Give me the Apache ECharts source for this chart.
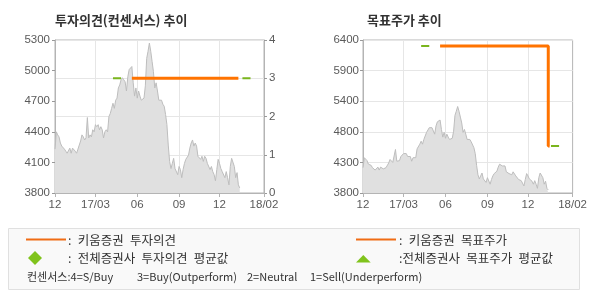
<!DOCTYPE html>
<html><head><meta charset="utf-8">
<script src="https://cdn.jsdelivr.net/npm/echarts@6/dist/echarts.min.js"></script>
<style>html,body{margin:0;padding:0;background:#fff}#c{width:590px;height:300px}</style>
</head><body><div id="c"></div>
<script>
// ---- data ----
const startDate = '2016-12-01';
const stepDays = 3;
const categoryCount = 156;
const tickLabels = ['12', '17/03', '06', '09', '12', '18/02'];
const tickDates = ['2016-12-01', '2017-03-01', '2017-06-01', '2017-09-01', '2017-12-01', '2018-03-11'];
const price = [
  4230, 4400, 4370, 4350, 4290, 4260, 4270, 4230, 4210, 4190,
  4180, 4240, 4190, 4240, 4230, 4210, 4190, 4230, 4240, 4310,
  4370, 4350, 4320, 4340, 4540, 4340, 4370, 4350, 4420, 4400,
  4470, 4450, 4470, 4420, 4450, 4420, 4340, 4400, 4420, 4400,
  4550, 4580, 4630, 4680, 4630, 4710, 4730, 4830, 4860, 4910,
  4930, 4910, 4890, 4800, 4940, 5010, 5020, 5040, 4880, 4750,
  4830, 4730, 4800, 4750, 4710, 4700, 4730, 4850, 5120, 5190,
  5270, 5190, 5090, 4990, 4830, 4880, 4800, 4710, 4700, 4710,
  4670, 4650, 4570, 4470, 4270, 4110, 4040, 4090, 4140, 4040,
  4030, 3980, 4060, 4030, 3950, 4030, 4090, 4130, 4140, 4170,
  4240, 4290, 4320, 4260, 4290, 4260, 4160, 4170, 4130, 4160,
  4110, 4160, 4140, 4090, 4080, 4030, 4060, 4010, 3980, 3920,
  4030, 4130, 4090, 4040, 4010, 4000, 3950, 4010, 3950, 3880,
  4060, 4140, 4130, 4060, 3950, 4000, 3880, 3850
];
// [from, to, value]
const kiwoomOpinion = [['2017-05-21', '2018-01-13', 3]];
const consensusOpinion = [['2017-04-09', '2017-04-27', 3], ['2018-01-22', '2018-02-09', 3]];
const kiwoomTarget = [['2017-05-21', '2018-01-13', 6300], ['2018-01-16', '2018-01-16', 4600]];
const consensusTarget = [['2017-04-09', '2017-04-27', 6300], ['2018-01-22', '2018-02-09', 4600]];

// ---- build ----
const t0 = Date.parse(startDate + 'T00:00:00Z');
const categories = [];
for (let i = 0; i < categoryCount; i++) {
  categories.push(new Date(t0 + i * stepDays * 86400000).toISOString().slice(0, 10));
}
const tickMap = new Map();
tickDates.forEach((d, k) => {
  let idx = categories.findIndex(c => c >= d);
  if (idx < 0) idx = categories.length - 1;
  tickMap.set(idx, tickLabels[k]);
});
const lastIdx = categories.length - 1;
function fromSegments(segs) {
  return categories.map(c => {
    for (const s of segs) if (c >= s[0] && c <= s[1]) return s[2];
    return null;
  });
}

const ORANGE = '#ff7300';
const GREEN = '#7ab51d';
const BORDER = '#b4b4b4';
const GRIDC = '#e6e6e6';
const LABEL = '#5a5a5a';
const numFont = 'Liberation Sans';
const KR = 'Noto Sans CJK KR';

function mkX(gi) {
  return {
    gridIndex: gi, type: 'category', data: categories, boundaryGap: false,
    axisLine: { show: true, lineStyle: { color: BORDER } },
    axisTick: { show: true, length: 4, interval: (i) => tickMap.has(i), lineStyle: { color: BORDER } },
    axisLabel: { interval: (i) => tickMap.has(i), formatter: (v, i) => tickMap.get(i) || '', color: LABEL, fontSize: 11.5, fontFamily: numFont, margin: 6 },
    splitLine: { show: true, interval: (i) => tickMap.has(i) && i !== 0 && i !== lastIdx, lineStyle: { color: GRIDC } }
  };
}
const plain = v => String(Math.round(v));

const chart = echarts.init(document.getElementById('c'), null, { renderer: 'canvas' });
chart.setOption({
  animation: false,
  title: [
    { text: '투자의견(컨센서스) 추이', left: 55, top: 14, padding: 0, textStyle: { fontSize: 13, fontWeight: 'bold', color: '#333', fontFamily: KR } },
    { text: '목표주가 추이', left: 367, top: 14, padding: 0, textStyle: { fontSize: 13, fontWeight: 'bold', color: '#333', fontFamily: KR } }
  ],
  grid: [
    { left: 55, top: 40, width: 209, height: 153, show: true, borderColor: BORDER, borderWidth: 1 },
    { left: 363, top: 40, width: 210, height: 153, show: true, borderColor: BORDER, borderWidth: 1 }
  ],
  xAxis: [mkX(0), mkX(1)],
  yAxis: [
    { gridIndex: 0, type: 'value', min: 3800, max: 5300, interval: 300, position: 'left',
      splitLine: { show: false }, axisLine: { show: true, lineStyle: { color: BORDER } },
      axisTick: { show: true, length: 3, lineStyle: { color: '#999' } },
      axisLabel: { margin: 5, color: LABEL, fontSize: 11.5, fontFamily: numFont, formatter: plain } },
    { gridIndex: 0, type: 'value', min: 0, max: 4, interval: 1, position: 'right',
      splitLine: { show: true, lineStyle: { color: GRIDC } }, axisLine: { show: true, lineStyle: { color: BORDER } },
      axisTick: { show: true, length: 3, lineStyle: { color: '#999' } },
      axisLabel: { margin: 5, color: LABEL, fontSize: 11.5, fontFamily: numFont, formatter: plain } },
    { gridIndex: 1, type: 'value', min: 3800, max: 6400, interval: 520, position: 'left',
      splitLine: { show: true, lineStyle: { color: GRIDC } }, axisLine: { show: true, lineStyle: { color: BORDER } },
      axisTick: { show: true, length: 3, lineStyle: { color: '#999' } },
      axisLabel: { margin: 4, color: LABEL, fontSize: 11.5, fontFamily: numFont, formatter: v => String(Math.round(v / 100) * 100) } }
  ],
  series: [
    { type: 'line', xAxisIndex: 0, yAxisIndex: 0, data: price, symbol: 'none', z: 1,
      lineStyle: { color: '#bdbdbd', width: 1 }, areaStyle: { color: '#e0e0e0', opacity: 1 } },
    { type: 'line', xAxisIndex: 0, yAxisIndex: 1, data: fromSegments(consensusOpinion), symbol: 'none', z: 3,
      lineStyle: { color: GREEN, width: 2, cap: 'butt' } },
    { type: 'line', xAxisIndex: 0, yAxisIndex: 1, data: fromSegments(kiwoomOpinion), symbol: 'none', z: 4,
      lineStyle: { color: ORANGE, width: 3, cap: 'butt' } },
    { type: 'line', xAxisIndex: 1, yAxisIndex: 2, data: price, symbol: 'none', z: 1,
      lineStyle: { color: '#bdbdbd', width: 1 }, areaStyle: { color: '#e0e0e0', opacity: 1 } },
    { type: 'line', xAxisIndex: 1, yAxisIndex: 2, data: fromSegments(consensusTarget), symbol: 'none', z: 3,
      lineStyle: { color: GREEN, width: 2, cap: 'butt' } },
    { type: 'line', xAxisIndex: 1, yAxisIndex: 2, data: fromSegments(kiwoomTarget), symbol: 'none', step: 'end', z: 4,
      lineStyle: { color: ORANGE, width: 3, cap: 'butt' } }
  ],
  graphic: [
    { type: 'rect', shape: { x: 8.5, y: 228.5, width: 571, height: 61 }, style: { fill: '#f9f9f9', stroke: '#e0e0e0', lineWidth: 1 } },
    { type: 'line', shape: { x1: 26, y1: 239.5, x2: 66, y2: 239.5 }, style: { stroke: '#f06c14', lineWidth: 2 } },
    { type: 'text', x: 68, y: 240, style: { text: ':\u2002키움증권\u2002투자의견', fontSize: 12.5, fontFamily: KR, fill: '#333', verticalAlign: 'middle' } },
    { type: 'polygon', shape: { points: [[35, 251], [42, 258], [35, 265], [28, 258]] }, style: { fill: '#80c31c' } },
    { type: 'text', x: 68, y: 258, style: { text: ':\u2002전체증권사\u2002투자의견\u2002평균값', fontSize: 12.5, fontFamily: KR, fill: '#333', verticalAlign: 'middle' } },
    { type: 'text', x: 27, y: 277, style: { text: '컨센서스:4=S/Buy', fontSize: 11, fontFamily: KR, fill: '#333', verticalAlign: 'middle' } },
    { type: 'text', x: 137, y: 277, style: { text: '3=Buy(Outperform)', fontSize: 11, fontFamily: KR, fill: '#333', verticalAlign: 'middle' } },
    { type: 'text', x: 247, y: 277, style: { text: '2=Neutral', fontSize: 11, fontFamily: KR, fill: '#333', verticalAlign: 'middle' } },
    { type: 'text', x: 310, y: 277, style: { text: '1=Sell(Underperform)', fontSize: 11, fontFamily: KR, fill: '#333', verticalAlign: 'middle' } },
    { type: 'line', shape: { x1: 356, y1: 239.5, x2: 396, y2: 239.5 }, style: { stroke: '#f06c14', lineWidth: 2 } },
    { type: 'text', x: 399, y: 240, style: { text: ':\u2002키움증권\u2002목표주가', fontSize: 12.5, fontFamily: KR, fill: '#333', verticalAlign: 'middle' } },
    { type: 'polygon', shape: { points: [[356, 262.5], [370.7, 262.5], [363.3, 255]] }, style: { fill: '#80c31c' } },
    { type: 'text', x: 399, y: 258, style: { text: ':전체증권사\u2002목표주가\u2002평균값', fontSize: 12.5, fontFamily: KR, fill: '#333', verticalAlign: 'middle' } }
  ]
});
</script>
</body></html>
